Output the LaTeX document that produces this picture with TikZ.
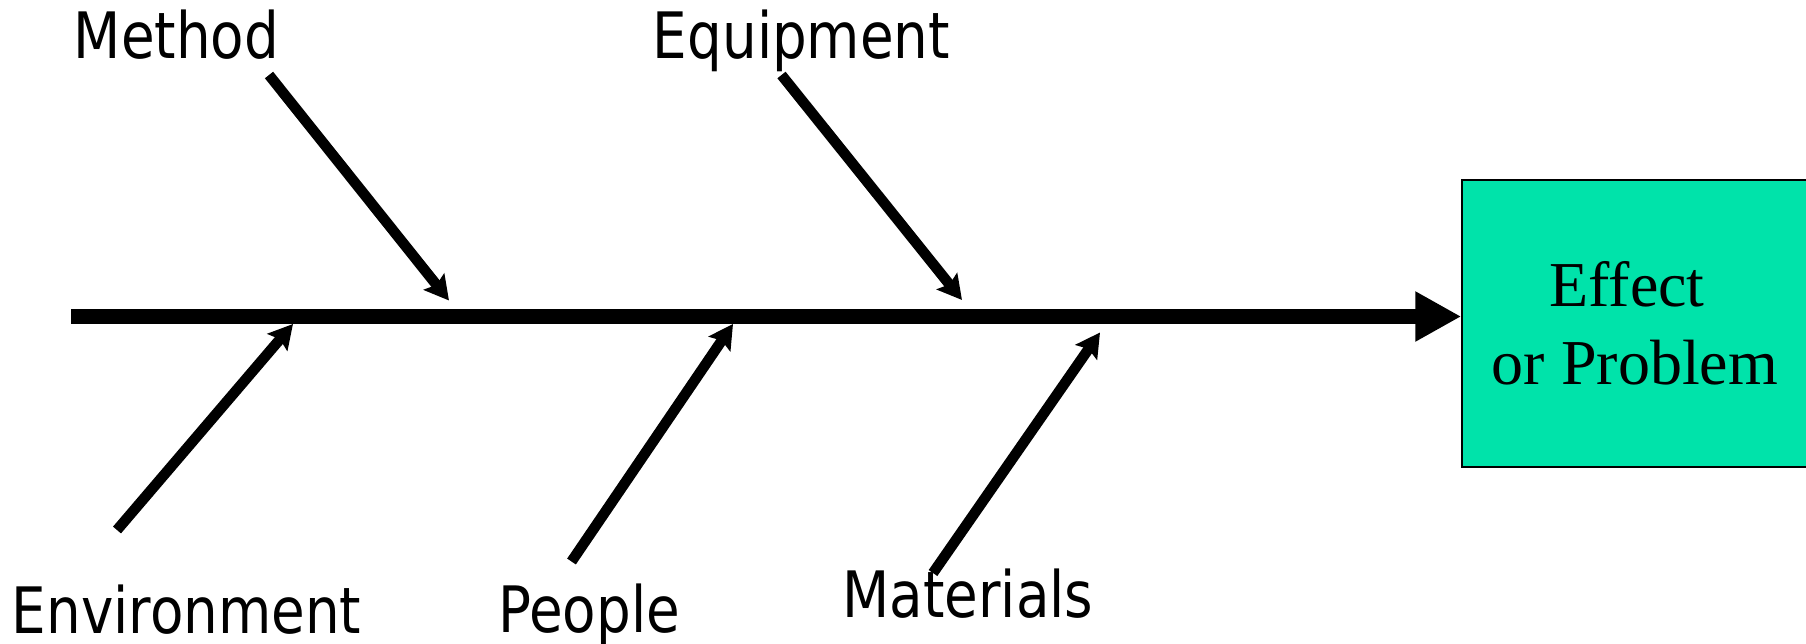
\documentclass[tikz,border=0pt]{standalone}
\usepackage{fontspec}
\usetikzlibrary{arrows.meta}
\newfontfamily\lblfont[FakeStretch=0.855]{DejaVu Sans}
\newfontfamily\boxfont{Liberation Serif}
\definecolor{effectgreen}{RGB}{0,227,170}
\tikzset{
  lbl/.style={font=\lblfont\fontsize{64}{74}\selectfont, inner sep=0pt, anchor=base},
  spineline/.style={line width=15pt, -{Triangle[length=46pt,width=47pt]}},
  branch/.style={line width=10.5pt, -{Stealth[length=24pt,width=26pt,inset=4pt]}},
  effbox/.style={draw=black, line width=1.5pt, fill=effectgreen, align=center,
    font=\boxfont\fontsize{64}{78}\selectfont, inner sep=0pt}
}
\begin{document}
\begin{tikzpicture}[x=1pt,y=-1pt]
\clip (0,0) rectangle (1806,643);
\fill[white] (0,0) rectangle (1806,643);
% effect box (right side runs off the page)
\node[effbox, minimum width=346pt, minimum height=287pt] (effect) at (1635,323.5)
  {Effect\hbox to 16pt{}\\or Problem};
% spine
\coordinate (s0) at (71,316.5);
\draw[spineline] (s0) -- (s0 -| effect.west);
% labels
\node[lbl] (method) at (176.5,58) {Method};
\node[lbl] (equipment) at (801.5,58) {Equipment};
\node[lbl] (environment) at (186.5,633) {Environment};
\node[lbl] (people) at (589,632) {People};
\node[lbl] (materials) at (968,617) {Materials};
% branch arrows
\coordinate (m1) at (269,75);    \coordinate (m2) at (449,300.5);
\coordinate (q1) at (781.5,75);  \coordinate (q2) at (962,300);
\coordinate (e1) at (117,530);   \coordinate (e2) at (293,324);
\coordinate (p1) at (571.5,561.5); \coordinate (p2) at (733,324);
\coordinate (a1) at (933,573);   \coordinate (a2) at (1100,332.5);
\draw[branch] (m1) -- (m2);
\draw[branch] (q1) -- (q2);
\draw[branch] (e1) -- (e2);
\draw[branch] (p1) -- (p2);
\draw[branch] (a1) -- (a2);
\end{tikzpicture}
\end{document}
